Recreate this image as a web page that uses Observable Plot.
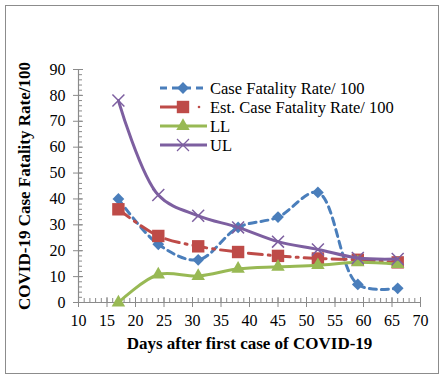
<!DOCTYPE html>
<html><head><meta charset="utf-8">
<script src="https://cdn.jsdelivr.net/npm/d3@7"></script>
<script src="https://cdn.jsdelivr.net/npm/@observablehq/plot@0.6"></script>
<style>
body{margin:0;background:#fff;}
#wrap{position:relative;width:445px;height:380px;overflow:hidden;font-family:"Liberation Serif","Times New Roman",serif;}
#frame{position:absolute;left:5px;top:5px;width:432px;height:367px;border:1.5px solid #8c8c8c;}
#chart{position:absolute;left:0;top:0;}
#legend{position:absolute;left:0;top:0;}
</style></head>
<body><div id="wrap"><div id="frame"></div><div id="chart"></div><svg id="legend" width="445" height="380"></svg></div>
<script>
const days = [17, 24, 31, 38, 45, 52, 59, 66];
const cfr = [40, 22.5, 16.5, 29, 33, 42.5, 7, 5.5];
const estCfr = [36, 25.7, 21.7, 19.5, 18, 17, 16.5, 15.5];
const ll = [0, 10.8, 10.2, 13, 13.8, 14.4, 15.5, 14.8];
const ul = [78, 41.5, 33.5, 29, 23.5, 20.5, 17.2, 16.8];
const seriesNames = ["Case Fatality Rate/ 100", "Est. Case Fatality Rate/ 100", "LL", "UL"];
const xTicks = [10, 15, 20, 25, 30, 35, 40, 45, 50, 55, 60, 65, 70];
const yTicks = [0, 10, 20, 30, 40, 50, 60, 70, 80, 90];
const xLabel = "Days after first case of COVID-19";
const yLabel = "COVID-19 Case Fatality Rate/100";

const colors = ["#4a7ebb", "#be4b48", "#98b954", "#7d5fa0"];
const symbols = ["diamond2", "square", "triangle", "times"];
const rs = [5.3, 7, 5, 5.5];
const dashes = ["7,5", "14,6,2,6", null, null];
const valuesList = [cfr, estCfr, ll, ul];

const xMinor = d3.range(10, 71, 1);
const yMinor = d3.range(0, 91, 2);
const axisColor = "#8a8a8a";

const marks = [
  Plot.ruleX([10], {stroke: axisColor, strokeWidth: 1.2}),
  Plot.ruleY([0], {stroke: axisColor, strokeWidth: 1.2}),
  Plot.axisX({ticks: xMinor, tickSize: -4, text: null, label: null, stroke: axisColor}),
  Plot.axisY({ticks: yMinor, tickSize: -4, text: null, label: null, stroke: axisColor}),
  Plot.axisX({ticks: xTicks, tickSize: -5, text: null, label: null, stroke: axisColor}),
  Plot.axisY({ticks: yTicks, tickSize: -5, text: null, label: null, stroke: axisColor}),
  Plot.axisX({ticks: xTicks, tickSize: 5, tickPadding: 7, stroke: axisColor, fill: "#000", fontSize: 16, label: null}),
  Plot.axisY({ticks: yTicks, tickSize: 5, tickPadding: 8, stroke: axisColor, fill: "#000", fontSize: 16, label: null}),
  Plot.text([xLabel], {frameAnchor: "bottom", dy: 46, text: d => d, fontSize: 17, fontWeight: "bold", fill: "#000"}),
  Plot.text([yLabel], {frameAnchor: "left", dx: -54, rotate: -90, textAnchor: "middle", text: d => d, fontSize: 17, fontWeight: "bold", fill: "#000"})
];

valuesList.forEach((vals, i) => {
  const data = days.map((d, j) => ({x: d, y: vals[j]}));
  marks.push(Plot.line(data, {x: "x", y: "y", curve: "catmull-rom", stroke: colors[i], strokeWidth: 3, strokeDasharray: dashes[i] || undefined}));
  if (symbols[i] === "times") {
    marks.push(Plot.dot(data, {x: "x", y: "y", symbol: "times", r: rs[i], stroke: colors[i], strokeWidth: 1.5}));
  } else {
    marks.push(Plot.dot(data, {x: "x", y: "y", symbol: symbols[i], r: rs[i], fill: colors[i], stroke: "none"}));
  }
});

const chart = Plot.plot({
  width: 445, height: 380,
  marginLeft: 78, marginRight: 25, marginTop: 69, marginBottom: 78,
  style: {fontFamily: "'Liberation Serif', 'Times New Roman', serif", background: "transparent", overflow: "visible"},
  x: {domain: [10, 70]},
  y: {domain: [0, 90]},
  marks
});
document.getElementById("chart").appendChild(chart);

// legend
const lg = d3.select("#legend");
const rowsY = [88, 107, 126, 145];
const symGen = [d3.symbolDiamond2, d3.symbolSquare, d3.symbolTriangle, d3.symbolTimes];
seriesNames.forEach((name, i) => {
  const y = rowsY[i];
  if (i === 1) {
    lg.append("line").attr("x1", 160).attr("x2", 178).attr("y1", y).attr("y2", y).attr("stroke", colors[i]).attr("stroke-width", 3);
    lg.append("circle").attr("cx", 199).attr("cy", y).attr("r", 1.3).attr("fill", colors[i]);
  } else {
    lg.append("line").attr("x1", 160).attr("x2", 207).attr("y1", y).attr("y2", y)
      .attr("stroke", colors[i]).attr("stroke-width", 3).attr("stroke-dasharray", dashes[i]);
  }
  const size = Math.PI * rs[i] * rs[i];
  const p = lg.append("path").attr("d", d3.symbol(symGen[i], size)()).attr("transform", `translate(183,${y})`);
  if (i === 3) p.attr("fill", "none").attr("stroke", colors[i]).attr("stroke-width", 1.2);
  else p.attr("fill", colors[i]);
  lg.append("text").attr("x", 210).attr("y", y).attr("dy", "0.35em").attr("font-size", 16.5).attr("fill", "#000")
    .attr("font-family", "'Liberation Serif', 'Times New Roman', serif").text(name);
});
</script></body></html>
